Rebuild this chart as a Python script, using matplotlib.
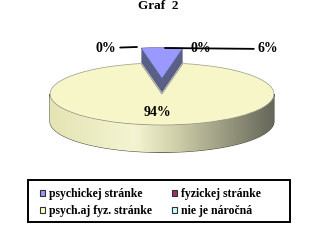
import numpy as np
import matplotlib
matplotlib.use("Agg")
import matplotlib.pyplot as plt
from matplotlib.path import Path
from matplotlib.patches import PathPatch, Patch, Rectangle
from matplotlib.colors import LinearSegmentedColormap

# ---- data ----
categories = ["psychickej stránke", "fyzickej stránke", "psych.aj fyz. stránke", "nie je náročná"]
values = [6, 0, 94, 0]
pct_labels = ["6%", "0%", "94%", "0%"]
title = "Graf  2"

colors = ["#9999FF", "#993366", "#F6F6C8", "#CCFFFF"]
legend_colors = ["#9999FF", "#993366", "#FFFFCC", "#CCFFFF"]
side_colors = ["#5A5F86", "#6E2248", "#D8D8B0", "#9AB0B0"]
explode = [0.5, 0, 0, 0]

plt.rcParams["font.family"] = ["Liberation Serif", "DejaVu Serif"]
plt.rcParams["font.weight"] = "bold"

W, H = 327, 241
fig = plt.figure(figsize=(W / 100, H / 100), dpi=100)
ax = fig.add_axes([0, 0, 1, 1])

# pixel geometry of the ellipse
cx, cy, rx, ry = 162, 94, 112, 31
xlim = (-cx / rx, (W - cx) / rx)
ylim = ((cy - H) / ry, cy / ry)

depth = 0.88
start = 90 + 360 * values[0] / sum(values) / 2

# side band (gradient) for the main body
th = np.linspace(np.pi, 2 * np.pi, 200)
top_x, top_y = np.cos(th), np.sin(th)
verts = np.concatenate([np.column_stack([top_x, top_y]),
                        np.column_stack([top_x[::-1], top_y[::-1] - depth])])
side_path = Path(np.vstack([verts, verts[:1]]), closed=True)
side_patch = PathPatch(side_path, facecolor="none", edgecolor="#505040", lw=0.8, zorder=1)
ax.add_patch(side_patch)
cmap = LinearSegmentedColormap.from_list(
    "side", [(0, "#E4E4B4"), (0.38, "#F4F4D2"), (0.55, "#D2D2AC"), (0.8, "#96967E"), (1, "#66665A")])
grad = np.linspace(0, 1, 256).reshape(1, -1)
im = ax.imshow(grad, cmap=cmap, extent=(-1, 1, -1 - depth, 0), aspect="auto", zorder=1)
im.set_clip_path(side_patch)

# top surface
wedges, _ = ax.pie(values, colors=colors, startangle=start, counterclock=False,
                   explode=explode, radius=1,
                   wedgeprops=dict(edgecolor="#9A9A88", linewidth=0.5))
for i, w in enumerate(wedges):
    w.set_zorder(2)
    if i == 0:
        w.set_visible(False)

# exploded slice: extrusion layers then top face
blue_depth = 0.45
for k in np.linspace(blue_depth, 0.02, 14):
    ws, _ = ax.pie(values, colors=side_colors, startangle=start, counterclock=False,
                   explode=explode, radius=1, center=(0, -k),
                   wedgeprops=dict(linewidth=0))
    for i, w in enumerate(ws):
        if i != 0:
            w.remove()
        else:
            w.set_zorder(3)
ws, _ = ax.pie(values, colors=colors, startangle=start, counterclock=False,
               explode=explode, radius=1, wedgeprops=dict(edgecolor="#6060A0", linewidth=0.4))
for i, w in enumerate(ws):
    if i != 0:
        w.remove()
    else:
        w.set_zorder(4)

ax.set_aspect("auto")
ax.set_xlim(*xlim)
ax.set_ylim(*ylim)
ax.set_axis_off()

def px(x, y):
    return ((x - cx) / rx, (cy - y) / ry)

lbl = dict(fontsize=10, fontweight="bold", color="black", zorder=6)
line = dict(arrowstyle="-", color="black", lw=1.3, shrinkA=1, shrinkB=0)
# 6% label with leader
ax.annotate(pct_labels[0], xy=px(165, 48), xytext=px(258, 49), ha="left", va="center",
            arrowprops=line, **lbl)
# fyzickej 0%
ax.annotate(pct_labels[1], xy=px(201, 48), ha="center", va="center", **lbl)
# nie je 0% with leader
ax.annotate(pct_labels[3], xy=px(137, 47), xytext=px(116, 48), ha="right", va="center",
            arrowprops=line, **lbl)
# 94%
ax.annotate(pct_labels[2], xy=px(157, 113), ha="center", va="center", **lbl)

fig.text(158 / W, 1 - 6 / H, title, ha="center", va="center", fontsize=9.5, fontweight="bold")

# legend box
fig.patches.append(Rectangle((28 / W, 1 - 222 / H), (290 - 28) / W, (222 - 180) / H,
                             transform=fig.transFigure, facecolor="white",
                             edgecolor="black", lw=1.4, zorder=0))
handles = [Patch(facecolor=c, edgecolor="#303030", lw=0.8) for c in legend_colors]
order = [0, 2, 1, 3]
leg = fig.legend([handles[i] for i in order], [categories[i] for i in order],
                 loc="upper left", bbox_to_anchor=(40 / W, 1 - 188 / H),
                 ncol=2, frameon=False,
                 prop=dict(family=["Liberation Serif"], weight="bold", size=8.5),
                 handlelength=0.45, handleheight=0.45, handletextpad=0.3, columnspacing=1.7,
                 labelspacing=0.45, borderpad=0, borderaxespad=0)

fig.savefig("out.png", dpi=100)
